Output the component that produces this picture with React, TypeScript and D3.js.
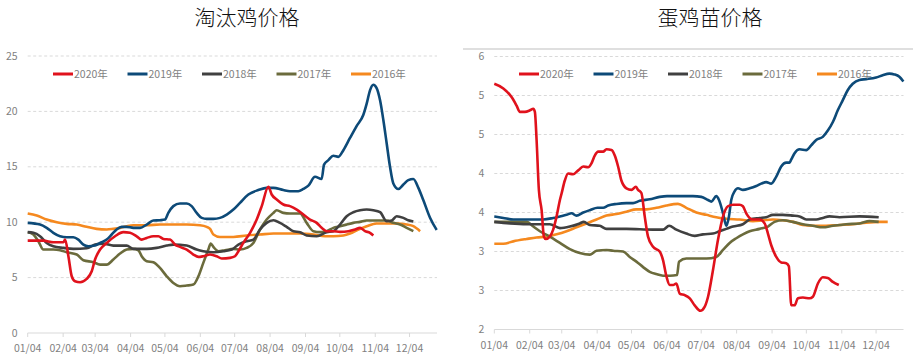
import React from 'react'
import * as d3 from 'd3'

// legend / series order
const years = ['2020年', '2019年', '2018年', '2017年', '2016年']
const colors = ['#e0121c', '#0d4a78', '#404040', '#6b6b3c', '#f5891f']

// x axis: day of year, ticks on the 4th of every month
const monthTickDays = [4, 35, 63, 94, 124, 155, 185, 216, 247, 277, 308, 338]
const monthTickLabels = ['01/04', '02/04', '03/04', '04/04', '05/04', '06/04', '07/04', '08/04', '09/04', '10/04', '11/04', '12/04']

// 淘汰鸡价格 y ticks
const cullTicks = [0, 5, 10, 15, 20, 25]
const cullTickLabels = ['0', '5', '10', '15', '20', '25']

// 蛋鸡苗价格 y ticks (labels rounded as in the source)
const chickTicks = [2, 2.5, 3, 3.5, 4, 4.5, 5, 5.5]
const chickTickLabels = ['2', '3', '3', '4', '4', '5', '5', '6']

type Pt = [number, number]

// 淘汰鸡价格 [day of year, value]
const cull2020: Pt[] = [[4, 8.34], [17.7, 8.34], [26.4, 8.19], [35.2, 8.19], [36.7, 8.43], [39.6, 6.93], [42.5, 5.12], [45.4, 4.67], [49.8, 4.58], [55.6, 4.88], [60, 5.57], [62.9, 6.63], [67.3, 7.53], [73.1, 8.13], [80.4, 8.73], [87.7, 9.1], [93.5, 9.04], [99.3, 8.73], [103.7, 8.43], [108.1, 8.58], [113.9, 8.73], [118.3, 8.73], [122.7, 8.49], [128.5, 8.43], [132.9, 7.98], [137.2, 7.77], [143.1, 7.53], [148.9, 7.08], [153.3, 6.87], [157.6, 6.93], [163.5, 7.08], [169.3, 6.93], [173.7, 6.72], [181, 6.78], [185.3, 6.93], [188.3, 7.38], [192.6, 8.13], [198.5, 9.04], [204.3, 10.24], [208.7, 11.45], [214.5, 13.2], [217.4, 12.5], [221.8, 12.05], [227.6, 11.6], [233.4, 11.45], [239.3, 11.14], [245.1, 10.69], [250.9, 10.24], [256.8, 9.94], [261.1, 9.49], [265.5, 9.19], [271.3, 9.19], [277.2, 9.13], [284.5, 9.19], [290.3, 9.34], [294.7, 9.49], [299, 9.19], [303.4, 9.04], [306.3, 8.8]]
const cull2019: Pt[] = [[4, 9.94], [14.8, 9.79], [20.6, 9.49], [26.4, 9.04], [32.3, 8.73], [38.1, 8.64], [43.9, 8.64], [48.3, 8.43], [52.7, 7.98], [57.1, 7.83], [62.9, 7.89], [67.3, 8.13], [73.1, 8.43], [77.5, 8.89], [81.8, 9.34], [86.2, 9.58], [90.6, 9.58], [96.4, 9.49], [102.3, 9.49], [108.1, 9.79], [113.9, 10.15], [119.7, 10.18], [124.1, 10.24], [127, 10.84], [131.4, 11.45], [137.2, 11.69], [143.1, 11.69], [147.4, 11.45], [151.8, 10.84], [156.2, 10.39], [160.6, 10.3], [166.4, 10.3], [172.2, 10.39], [178.1, 10.69], [183.9, 11.14], [189.7, 11.75], [197, 12.5], [205.7, 12.9], [213, 13.1], [218.9, 13.1], [227.6, 12.9], [233.4, 12.8], [240.7, 12.8], [245.1, 13.0], [249.5, 13.3], [255.3, 14.1], [261.1, 13.9], [263.2, 15.2], [267, 15.6], [271.3, 16.0], [275.7, 15.9], [280.1, 16.5], [285.9, 17.6], [291.8, 18.7], [297.6, 19.7], [300.5, 20.7], [303.4, 21.9], [306.3, 22.4], [309.2, 22.1], [312.2, 21.0], [315.1, 19.2], [318, 17.1], [320.9, 15.0], [323.8, 13.5], [328.2, 13.0], [332.6, 13.4], [336.9, 13.8], [341.3, 13.9], [345.7, 13.1], [350, 12.0], [355.9, 10.4], [361.7, 9.3]]
const cull2018: Pt[] = [[4, 9.1], [9, 9.04], [14.8, 8.73], [20.6, 8.13], [26.4, 7.83], [35.2, 7.68], [43.9, 7.59], [55.6, 7.65], [62.9, 7.98], [70.2, 8.07], [78.9, 7.89], [90.6, 7.89], [96.4, 7.59], [108.1, 7.59], [116.8, 7.68], [125.6, 7.89], [131.4, 7.98], [143.1, 7.89], [151.8, 7.53], [157.6, 7.38], [166.4, 7.29], [175.1, 7.38], [182.4, 7.53], [188.3, 7.98], [195.5, 8.28], [201.4, 8.43], [207.2, 9.34], [213, 9.94], [218.9, 10.18], [224.7, 9.94], [230.5, 9.58], [236.4, 9.19], [242.2, 9.1], [248, 8.8], [256.8, 8.73], [265.5, 9.1], [271.3, 9.19], [277.2, 9.79], [283, 10.54], [288.8, 10.9], [294.7, 11.08], [300.5, 11.14], [306.3, 11.08], [312.2, 10.9], [318, 10.09], [322.4, 10.15], [326.7, 10.54], [332.6, 10.39], [336.9, 10.18], [341.3, 10.06]]
const cull2017: Pt[] = [[4, 9.1], [9, 8.89], [13.3, 8.28], [17.7, 7.53], [26.4, 7.53], [32.3, 7.47], [38.1, 7.29], [46.9, 7.08], [52.7, 6.57], [61.4, 6.39], [67.3, 6.17], [73.1, 6.17], [78.9, 6.63], [84.8, 7.17], [90.6, 7.53], [96.4, 7.59], [100.8, 7.47], [103.7, 6.93], [108.1, 6.48], [113.9, 6.39], [119.7, 5.87], [125.6, 5.12], [131.4, 4.52], [137.2, 4.22], [143.1, 4.28], [148.9, 4.37], [153.3, 5.12], [157.6, 6.33], [162, 7.53], [164.1, 8.07], [166.4, 7.77], [170.8, 7.38], [176.6, 7.47], [183.9, 7.59], [189.7, 7.53], [195.5, 7.68], [201.4, 8.13], [207.2, 9.34], [213, 10.24], [218.9, 10.84], [221.8, 11.08], [227.6, 10.84], [233.4, 10.78], [242.2, 10.78], [248, 9.94], [253.9, 9.19], [259.7, 9.1], [265.5, 9.19], [271.3, 9.49], [277.2, 9.64], [283, 9.79], [288.8, 9.94], [294.7, 10.03], [300.5, 10.15], [309.2, 10.15], [318, 10.15], [323.8, 9.94], [329.7, 9.79], [335.5, 9.49], [341.3, 9.19]]
const cull2016: Pt[] = [[4, 10.78], [11.9, 10.6], [20.6, 10.24], [29.4, 10.0], [38.1, 9.85], [46.9, 9.79], [55.6, 9.58], [64.3, 9.4], [73.1, 9.34], [78.9, 9.4], [84.8, 9.49], [90.6, 9.64], [96.4, 9.73], [108.1, 9.73], [119.7, 9.79], [131.4, 9.79], [143.1, 9.79], [154.7, 9.73], [160.6, 9.58], [163.5, 9.4], [166.4, 8.89], [172.2, 8.67], [183.9, 8.67], [195.5, 8.8], [207.2, 8.89], [218.9, 8.98], [230.5, 8.98], [242.2, 8.98], [253.9, 8.89], [264.1, 8.73], [271.3, 8.73], [280.1, 8.8], [285.9, 8.98], [293.2, 9.34], [300.5, 9.64], [309.2, 9.88], [318, 9.88], [326.7, 9.88], [335.5, 9.79], [341.3, 9.64], [347.2, 9.19]]

// 蛋鸡苗价格 [day of year, value]
const chick2020: Pt[] = [[4, 5.15], [11.9, 5.09], [19.1, 4.98], [23.5, 4.87], [26.4, 4.79], [30.8, 4.79], [35.2, 4.81], [38.1, 4.83], [39.5, 4.79], [41, 4.43], [43, 3.79], [45.4, 3.53], [47.4, 3.19], [49.1, 3.16], [52.6, 3.19], [55.5, 3.28], [58.5, 3.45], [61.4, 3.66], [62.8, 3.74], [65.7, 3.91], [68.6, 4.0], [73, 3.99], [77.4, 4.04], [81.8, 4.09], [86.1, 4.08], [89, 4.13], [91.9, 4.23], [94.9, 4.28], [99.2, 4.28], [102.1, 4.31], [106.5, 4.3], [109.4, 4.23], [112.3, 4.09], [115.2, 3.91], [119.6, 3.81], [124, 3.79], [127.8, 3.83], [129.8, 3.79], [132.7, 3.75], [135.6, 3.45], [138.5, 3.19], [142.9, 3.06], [148.7, 3.0], [151.6, 2.89], [154.6, 2.68], [157.5, 2.57], [160.4, 2.57], [163.3, 2.59], [166.2, 2.46], [170.6, 2.44], [175, 2.4], [179.3, 2.31], [184.3, 2.24], [188, 2.29], [191, 2.42], [195.3, 2.76], [199.7, 3.15], [204.1, 3.45], [208.4, 3.58], [212.8, 3.6], [218.6, 3.6], [221.5, 3.58], [224.4, 3.49], [230.3, 3.41], [236.1, 3.41], [240.5, 3.36], [243.4, 3.23], [246.3, 3.08], [250.7, 2.93], [255, 2.86], [259.4, 2.85], [261.7, 2.81], [263.8, 2.31], [266.7, 2.31], [269.6, 2.4], [274, 2.41], [279.8, 2.4], [282.7, 2.42], [287.1, 2.59], [291.4, 2.67], [295.8, 2.66], [300.2, 2.61], [305.4, 2.57]]
const chick2019: Pt[] = [[4, 3.45], [11.9, 3.43], [20.6, 3.41], [32.2, 3.41], [46.8, 3.41], [55.5, 3.43], [61.4, 3.45], [67.2, 3.47], [71.6, 3.49], [75.9, 3.46], [81.8, 3.5], [87.6, 3.53], [94.3, 3.56], [99.2, 3.56], [103.6, 3.59], [110.9, 3.61], [119.6, 3.62], [125.4, 3.62], [131.3, 3.65], [140, 3.67], [148.7, 3.7], [155.1, 3.71], [166.2, 3.71], [177.8, 3.71], [185.1, 3.7], [191, 3.66], [193.9, 3.64], [198.2, 3.71], [200.6, 3.66], [204.1, 3.49], [207, 3.33], [209.3, 3.45], [211.3, 3.66], [214.2, 3.77], [217.2, 3.81], [221.5, 3.79], [227.4, 3.81], [233.2, 3.84], [237.5, 3.87], [241.9, 3.89], [246.3, 3.87], [250.7, 3.96], [255, 4.09], [259.4, 4.14], [262.3, 4.14], [263.8, 4.18], [266.7, 4.26], [271.1, 4.31], [276.9, 4.3], [281.2, 4.36], [285.6, 4.43], [291.4, 4.47], [295.8, 4.55], [300.2, 4.66], [304.5, 4.81], [308.9, 4.94], [313.3, 5.07], [317.6, 5.15], [323.5, 5.2], [329.3, 5.21], [338, 5.23], [343.8, 5.26], [349.7, 5.28], [354, 5.27], [358.4, 5.24], [361.9, 5.18]]
const chick2018: Pt[] = [[4, 3.38], [17.7, 3.36], [32.2, 3.35], [52.6, 3.35], [61.4, 3.3], [70.1, 3.32], [78.8, 3.36], [82.3, 3.38], [87.6, 3.34], [96.3, 3.33], [102.1, 3.29], [119.6, 3.29], [142.9, 3.28], [151.6, 3.28], [156.9, 3.33], [163.3, 3.28], [172, 3.23], [179.3, 3.2], [186.6, 3.22], [195.3, 3.23], [201.1, 3.26], [207, 3.29], [212.8, 3.32], [221.5, 3.35], [227.4, 3.41], [236.1, 3.43], [241.9, 3.44], [247.7, 3.47], [256.5, 3.47], [265.2, 3.46], [271.1, 3.45], [276.9, 3.41], [285.6, 3.41], [291.4, 3.43], [297.2, 3.45], [306, 3.44], [323.5, 3.45], [340.3, 3.44]]
const chick2017: Pt[] = [[4, 3.38], [17.7, 3.38], [32.2, 3.38], [38.1, 3.32], [43.9, 3.26], [52.6, 3.19], [61.4, 3.11], [70.1, 3.03], [78.8, 2.98], [87.6, 2.96], [93.4, 3.01], [102.1, 3.02], [108, 3.01], [116.7, 3.0], [122.5, 2.93], [128.3, 2.87], [134.2, 2.8], [140, 2.74], [145.8, 2.71], [151.6, 2.69], [157.5, 2.69], [163.9, 2.7], [165.6, 2.87], [172, 2.91], [180.8, 2.91], [189.5, 2.91], [198.2, 2.93], [204.1, 3.02], [209.9, 3.11], [215.7, 3.17], [221.5, 3.22], [227.4, 3.26], [236.1, 3.29], [243.4, 3.32], [249.2, 3.38], [256.5, 3.4], [265.2, 3.38], [273.9, 3.35], [282.7, 3.33], [291.4, 3.31], [300.2, 3.33], [311.8, 3.35], [323.5, 3.36], [332.2, 3.39], [340.3, 3.38]]
const chick2016: Pt[] = [[4, 3.1], [11.9, 3.1], [20.6, 3.13], [32.2, 3.16], [41, 3.18], [49.7, 3.19], [58.5, 3.22], [67.2, 3.26], [75.9, 3.31], [84.7, 3.36], [93.4, 3.41], [102.1, 3.46], [110.9, 3.48], [119.6, 3.51], [128.3, 3.54], [137.1, 3.54], [145.8, 3.56], [154.6, 3.59], [164.7, 3.61], [172, 3.56], [180.8, 3.5], [189.5, 3.47], [198.2, 3.44], [207, 3.42], [218.6, 3.41], [230.3, 3.39], [239, 3.4], [247.7, 3.41], [256.5, 3.4], [265.2, 3.38], [273.9, 3.34], [282.7, 3.33], [294.3, 3.33], [306, 3.34], [317.6, 3.35], [329.3, 3.37], [341, 3.38], [348.2, 3.38]]

const latin = '"Liberation Sans Narrow", "Arial Narrow", "Noto Sans CJK SC", sans-serif'
const cjk = '"Noto Sans CJK SC", "Microsoft YaHei", sans-serif'
const gray = '#7f7f7f'

type PanelProps = {
  title: string
  titleX: number
  x0: number
  x1: number
  yTop: number
  yBottom: number
  yDomain: [number, number]
  ticks: number[]
  tickLabels: string[]
  series: Pt[][]
  legendX: number
}

function Panel(p: PanelProps) {
  const x = d3.scaleLinear().domain([4, 362]).range([p.x0, p.x1])
  const y = d3.scaleLinear().domain(p.yDomain).range([p.yBottom, p.yTop])
  const line = d3
    .line<Pt>()
    .x((d) => x(d[0]))
    .y((d) => y(d[1]))
    .curve(d3.curveMonotoneX)

  return (
    <g>
      <text x={p.titleX} y={25} textAnchor="middle" fontFamily={cjk} fontSize={21} fontWeight={300} fill="#111">
        {p.title}
      </text>

      {/* grid + y labels */}
      {p.ticks.map((t, i) => (
        <g key={t}>
          {i > 0 && (
            <line x1={p.x0} x2={p.x1} y1={y(t)} y2={y(t)} stroke="#d9d9d9" strokeWidth={1} strokeDasharray="3,2.5" />
          )}
          <text x={p.x0 - 10} y={y(t) + 3.5} textAnchor="end" fontFamily={latin} fontSize={10.5} fill={gray}>
            {p.tickLabels[i]}
          </text>
        </g>
      ))}

      {/* x axis */}
      <line x1={p.x0} x2={p.x1} y1={p.yBottom} y2={p.yBottom} stroke="#d9d9d9" strokeWidth={1} />
      {monthTickDays.map((d, i) => (
        <g key={d}>
          <line x1={x(d)} x2={x(d)} y1={p.yBottom} y2={p.yBottom + 4} stroke="#d9d9d9" />
          <text x={x(d)} y={p.yBottom + 19} textAnchor="middle" fontFamily={latin} fontSize={10.5} fill={gray}>
            {monthTickLabels[i]}
          </text>
        </g>
      ))}

      {/* series, oldest drawn first */}
      {p.series
        .map((s, i) => ({ s, i }))
        .reverse()
        .map(({ s, i }) => (
          <path key={years[i]} d={line(s) || ''} fill="none" stroke={colors[i]} strokeWidth={2.6} strokeLinejoin="round" />
        ))}

      {/* legend */}
      {years.map((yr, i) => {
        const lx = p.legendX + i * 74.5
        return (
          <g key={yr}>
            <line x1={lx} x2={lx + 20} y1={74} y2={74} stroke={colors[i]} strokeWidth={3} />
            <text x={lx + 21} y={78} fontFamily={latin} fontSize={10.5} fill={gray}>
              {yr}
            </text>
          </g>
        )
      })}
    </g>
  )
}

export default function App() {
  return (
    <svg width={922} height={361} style={{ position: 'absolute', left: 0, top: 0, background: '#fff' }}>
      <rect width={922} height={361} fill="#fff" />
      <line x1={463} x2={913} y1={49} y2={49} stroke="#bfbfbf" strokeWidth={1} />
      <Panel
        title="淘汰鸡价格"
        titleX={247}
        x0={27.7}
        x1={437}
        yTop={56}
        yBottom={333}
        yDomain={[0, 25]}
        ticks={cullTicks}
        tickLabels={cullTickLabels}
        series={[cull2020, cull2019, cull2018, cull2017, cull2016]}
        legendX={53}
      />
      <Panel
        title="蛋鸡苗价格"
        titleX={710}
        x0={494.3}
        x1={903.5}
        yTop={56.5}
        yBottom={329.5}
        yDomain={[2, 5.5]}
        ticks={chickTicks}
        tickLabels={chickTickLabels}
        series={[chick2020, chick2019, chick2018, chick2017, chick2016]}
        legendX={519}
      />
    </svg>
  )
}
